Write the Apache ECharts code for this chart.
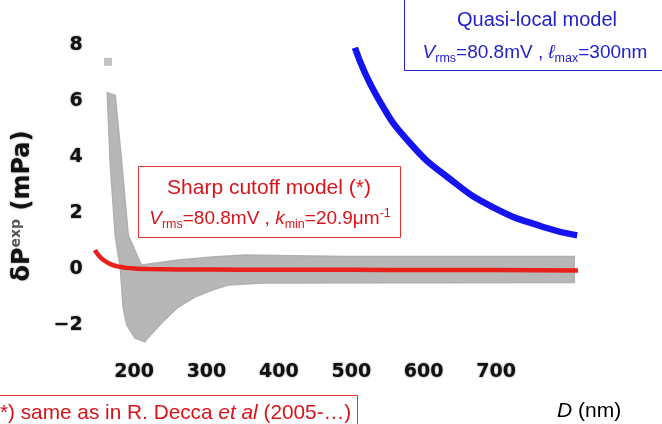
<!DOCTYPE html>
<html><head><meta charset="utf-8">
<script src="https://cdn.jsdelivr.net/npm/echarts@6/dist/echarts.min.js"></script>
<style>html,body{margin:0;padding:0;background:#fff}#c{width:662px;height:424px}</style>
</head><body><div id="c"></div>
<script>
// ---- data ----
const xTicks = [200, 300, 400, 500, 600, 700];
const yTicks = [-2, 0, 2, 4, 6, 8];
// experimental data band (gray): upper and lower outline, D (nm) and dP (mPa)
const grayUpD = [163, 174, 183, 192, 201, 208, 211, 261, 308, 353, 491, 808];
const grayUpV = [6.3, 6.2, 3.8, 1.2, 0.68, 0.25, 0.14, 0.32, 0.43, 0.5, 0.45, 0.45];
const grayLoD = [163, 167, 174, 177, 181, 185, 190, 201, 215, 219, 239, 261, 284, 308, 330, 377, 808];
const grayLoV = [6.3, 3.8, 1.2, 0.68, 0.04, -1.4, -2.0, -2.46, -2.6, -2.46, -1.9, -1.36, -1.0, -0.75, -0.57, -0.5, -0.48];
const grayIsolated = [[164, 7.4]];
// sharp cutoff model (red)
const redD = [146, 150, 155, 160, 170, 180, 190, 200, 220, 300, 400, 500, 600, 700, 813];
const redV = [0.68, 0.52, 0.38, 0.28, 0.15, 0.08, 0.04, 0.02, 0.0, -0.02, -0.03, -0.03, -0.04, -0.04, -0.05];
// quasi-local model (blue)
const blueD = [505, 536, 581, 636, 696, 765, 812];
const blueV = [7.9, 6.14, 4.5, 3.22, 2.2, 1.5, 1.2];

const chart = echarts.init(document.getElementById('c'), null, {renderer: 'canvas'});
const RED = '#d8141a', BLUE = '#2222cc';
const tickFont = {fontWeight: 'bold', fontSize: 19, color: '#111', fontFamily: 'DejaVu Sans',
  textShadowColor: 'rgba(0,0,0,0.55)', textShadowBlur: 2};

const option = {
  animation: false,
  grid: {left: 90.6, right: 79, top: 17, bottom: 71},
  xAxis: {type: 'value', min: 140, max: 820,
    axisLine: {show: false}, axisTick: {show: false}, splitLine: {show: false},
    axisLabel: Object.assign({customValues: xTicks, margin: 10}, tickFont)},
  yAxis: {type: 'value', min: -3, max: 9,
    axisLine: {show: false}, axisTick: {show: false}, splitLine: {show: false},
    axisLabel: Object.assign({customValues: yTicks, margin: 8,
      formatter: v => (v < 0 ? '\u2212' + Math.abs(v) : String(v))}, tickFont)},
  series: [
    {type: 'custom', data: [[grayUpD[0], grayUpV[0]]], encode: {x: 0, y: 1}, z: 1,
      renderItem: function (params, api) {
        const pts = grayUpD.map((d, i) => api.coord([d, grayUpV[i]]));
        for (let i = grayLoD.length - 1; i >= 0; i--) pts.push(api.coord([grayLoD[i], grayLoV[i]]));
        return {type: 'polygon', shape: {points: pts}, style: {fill: '#b7b7b7', stroke: '#b0b0b0', lineWidth: 1.5}};
      }},
    {type: 'scatter', data: grayIsolated, symbol: 'rect', symbolSize: 8, itemStyle: {color: '#b3b3b3'}, z: 2},
    {type: 'line', data: redD.map((d, i) => [d, redV[i]]), smooth: true, showSymbol: false,
      lineStyle: {color: '#e8201c', width: 4.5}, z: 3},
    {type: 'line', data: blueD.map((d, i) => [d, blueV[i]]), smooth: true, showSymbol: false,
      lineStyle: {color: '#1414f0', width: 6.5}, z: 4}
  ],
  graphic: [
    // quasi-local box
    {type: 'rect', shape: {x: 404.5, y: -5, width: 270, height: 75.5}, style: {fill: null, stroke: BLUE, lineWidth: 1}, z: 10},
    {type: 'text', x: 537, y: 20, z: 11, style: {text: 'Quasi-local model', fill: BLUE, fontSize: 20,
      fontFamily: 'Liberation Sans', align: 'center', verticalAlign: 'middle'}},
    {type: 'text', x: 535, y: 53, z: 11, style: {
      text: '{i|V}{s|rms}{n|=80.8mV , }{i|ℓ}{s|max}{n|=300nm}', fill: BLUE, align: 'center', verticalAlign: 'middle',
      rich: {
        n: {fontSize: 19, fontFamily: 'Liberation Sans', fill: BLUE, lineHeight: 24, verticalAlign: 'middle'},
        i: {fontSize: 19, fontFamily: 'Liberation Sans', fontStyle: 'italic', fill: BLUE, lineHeight: 24, verticalAlign: 'middle'},
        s: {fontSize: 12.5, fontFamily: 'Liberation Sans', fill: BLUE, lineHeight: 12, verticalAlign: 'bottom'}
      }}},
    // sharp cutoff box
    {type: 'rect', shape: {x: 138.5, y: 166.5, width: 262, height: 71}, style: {fill: '#fff', stroke: '#e83030', lineWidth: 1}, z: 10},
    {type: 'text', x: 269, y: 188, z: 11, style: {text: 'Sharp cutoff model (*)', fill: RED, fontSize: 21,
      fontFamily: 'Liberation Sans', align: 'center', verticalAlign: 'middle'}},
    {type: 'text', x: 270, y: 219, z: 11, style: {
      text: '{i|V}{s|rms}{n|=80.8mV , }{i|k}{s|min}{n|=20.9μm}{p|-1}', fill: RED, align: 'center', verticalAlign: 'middle',
      rich: {
        n: {fontSize: 19, fontFamily: 'Liberation Sans', fill: RED, lineHeight: 24, verticalAlign: 'middle'},
        i: {fontSize: 19, fontFamily: 'Liberation Sans', fontStyle: 'italic', fill: RED, lineHeight: 24, verticalAlign: 'middle'},
        s: {fontSize: 12.5, fontFamily: 'Liberation Sans', fill: RED, lineHeight: 12, verticalAlign: 'bottom'},
        p: {fontSize: 12.5, fontFamily: 'Liberation Sans', fill: RED, lineHeight: 12, verticalAlign: 'top'}
      }}},
    // footnote box
    {type: 'rect', shape: {x: -5, y: 395.5, width: 362.5, height: 40}, style: {fill: '#fff', stroke: '#e83030', lineWidth: 1}, z: 10},
    {type: 'text', x: -7, y: 413, z: 11, style: {
      text: '{n|(*) same as in R. Decca }{i|et al}{n| (2005-…)}', align: 'left', verticalAlign: 'middle',
      rich: {
        n: {fontSize: 20.8, fontFamily: 'Liberation Sans', fill: RED},
        i: {fontSize: 20.8, fontFamily: 'Liberation Sans', fontStyle: 'italic', fill: RED}
      }}},
    // x-axis title
    {type: 'text', x: 557, y: 411, z: 11, style: {
      text: '{i|D}{n| (nm)}', align: 'left', verticalAlign: 'middle',
      rich: {
        n: {fontSize: 21, fontFamily: 'Liberation Sans', fill: '#000'},
        i: {fontSize: 21, fontFamily: 'Liberation Sans', fontStyle: 'italic', fill: '#000'}
      }}},
    // y-axis title
    {type: 'text', x: 23, y: 206, rotation: Math.PI / 2, z: 11, style: {
      text: '{b|δP}{s|exp}{b| (mPa)}', align: 'center', verticalAlign: 'middle',
      rich: {
        b: {fontSize: 24, fontWeight: 'bold', fontFamily: 'DejaVu Sans', fill: '#111', lineHeight: 28, verticalAlign: 'middle',
            textShadowColor: 'rgba(0,0,0,0.5)', textShadowBlur: 2},
        s: {fontSize: 14, fontWeight: 'bold', fontFamily: 'DejaVu Sans', fill: '#555', lineHeight: 14, verticalAlign: 'top'}
      }}}
  ]
};
chart.setOption(option);
</script></body></html>
